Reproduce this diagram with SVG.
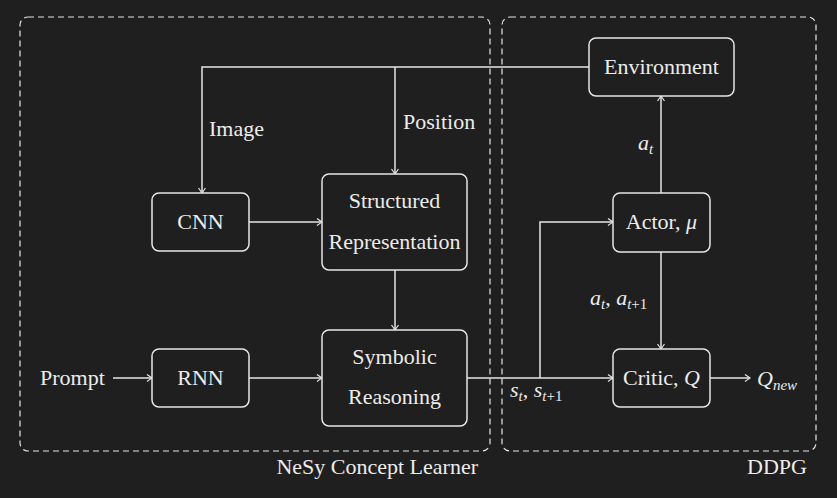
<svg xmlns="http://www.w3.org/2000/svg" width="837" height="498" viewBox="0 0 837 498">
<style>
.bg{fill:#1f1f1f}
.grp{fill:none;stroke:#e6e6e6;stroke-width:1.2;stroke-dasharray:6 4}
.node rect{fill:#1f1f1f;stroke:#e6e6e6;stroke-width:1.5}
.c{text-anchor:middle}
.m{font-style:italic}
.sub{font-size:15px}
.conn path{fill:none;stroke:#e6e6e6;stroke-width:1.5}
</style>
<defs>
<marker id="ah" markerUnits="userSpaceOnUse" markerWidth="12" markerHeight="12" viewBox="-6 -6 12 12" refX="0" refY="0" orient="auto">
<path d="M-5,-3.5 Q-1.5,-1 0,0 Q-1.5,1 -5,3.5" fill="none" stroke="#e6e6e6" stroke-width="1.2"/>
</marker>
</defs>
<rect class="bg" x="0" y="0" width="837" height="498"/>
<g id="nesy-group">
<rect class="grp" x="20" y="17" width="470" height="434" rx="8"/>
<text x="478" y="474" text-anchor="end" font-family="Liberation Serif" font-size="22" fill="#ececec">NeSy Concept Learner</text>
</g>
<g id="ddpg-group">
<rect class="grp" x="502" y="17" width="314" height="434" rx="8"/>
<text x="807" y="474" text-anchor="end" font-family="Liberation Serif" font-size="22" fill="#ececec">DDPG</text>
</g>
<g class="conn" id="connectors">
<path d="M589,67 H202 V193" marker-end="url(#ah)"/>
<path d="M395,67 V174" marker-end="url(#ah)"/>
<path d="M249,222 H322" marker-end="url(#ah)"/>
<path d="M395,270 V330" marker-end="url(#ah)"/>
<path d="M113,378 H152" marker-end="url(#ah)"/>
<path d="M249,378 H322" marker-end="url(#ah)"/>
<path d="M467,378 H613" marker-end="url(#ah)"/>
<path d="M540,378 V222 H613" marker-end="url(#ah)"/>
<path d="M661,193 V96" marker-end="url(#ah)"/>
<path d="M661,252 V349" marker-end="url(#ah)"/>
<path d="M710,378 H750" marker-end="url(#ah)"/>
</g>
<g id="labels">
<text x="209" y="136" font-family="Liberation Serif" font-size="22" fill="#ececec">Image</text>
<text x="403" y="129" font-family="Liberation Serif" font-size="22" fill="#ececec">Position</text>
<text x="40" y="385" font-family="Liberation Serif" font-size="22" fill="#ececec">Prompt</text>
<text x="638" y="150" font-family="Liberation Serif" font-size="22" fill="#ececec"><tspan class="m">a</tspan><tspan class="m sub" dy="4">t</tspan></text>
<text x="590" y="305" font-family="Liberation Serif" font-size="22" fill="#ececec"><tspan class="m">a</tspan><tspan class="m sub" dy="4">t</tspan><tspan dy="-4">, </tspan><tspan class="m">a</tspan><tspan class="sub" dy="4"><tspan class="m">t</tspan>+1</tspan></text>
<text x="510" y="397" font-family="Liberation Serif" font-size="22" fill="#ececec"><tspan class="m">s</tspan><tspan class="m sub" dy="4">t</tspan><tspan dy="-4">, </tspan><tspan class="m">s</tspan><tspan class="sub" dy="4"><tspan class="m">t</tspan>+1</tspan></text>
<text x="757" y="386" font-family="Liberation Serif" font-size="22" fill="#ececec"><tspan class="m">Q</tspan><tspan class="m sub" dy="4">new</tspan></text>
</g>
<g id="environment" class="node">
<rect x="589" y="38" width="145" height="58" rx="7"/>
<text class="c" x="661.5" y="74" font-family="Liberation Serif" font-size="22" fill="#ececec">Environment</text>
</g>
<g id="actor" class="node">
<rect x="613" y="193" width="97" height="59" rx="7"/>
<text class="c" x="661.5" y="229" font-family="Liberation Serif" font-size="22" fill="#ececec">Actor, <tspan class="m">μ</tspan></text>
</g>
<g id="critic" class="node">
<rect x="613" y="349" width="97" height="58" rx="7"/>
<text class="c" x="661.5" y="385" font-family="Liberation Serif" font-size="22" fill="#ececec">Critic, <tspan class="m">Q</tspan></text>
</g>
<g id="cnn" class="node">
<rect x="152" y="193" width="97" height="58" rx="7"/>
<text class="c" x="200.5" y="229" font-family="Liberation Serif" font-size="22" fill="#ececec">CNN</text>
</g>
<g id="rnn" class="node">
<rect x="152" y="349" width="97" height="58" rx="7"/>
<text class="c" x="200.5" y="385" font-family="Liberation Serif" font-size="22" fill="#ececec">RNN</text>
</g>
<g id="structured" class="node">
<rect x="322" y="174" width="145" height="96" rx="7"/>
<text class="c" x="394.5" y="208" font-family="Liberation Serif" font-size="22" fill="#ececec">Structured</text>
<text class="c" x="394.5" y="249" font-family="Liberation Serif" font-size="22" fill="#ececec">Representation</text>
</g>
<g id="symbolic" class="node">
<rect x="322" y="330" width="145" height="96" rx="7"/>
<text class="c" x="394.5" y="364" font-family="Liberation Serif" font-size="22" fill="#ececec">Symbolic</text>
<text class="c" x="394.5" y="404" font-family="Liberation Serif" font-size="22" fill="#ececec">Reasoning</text>
</g>
</svg>
